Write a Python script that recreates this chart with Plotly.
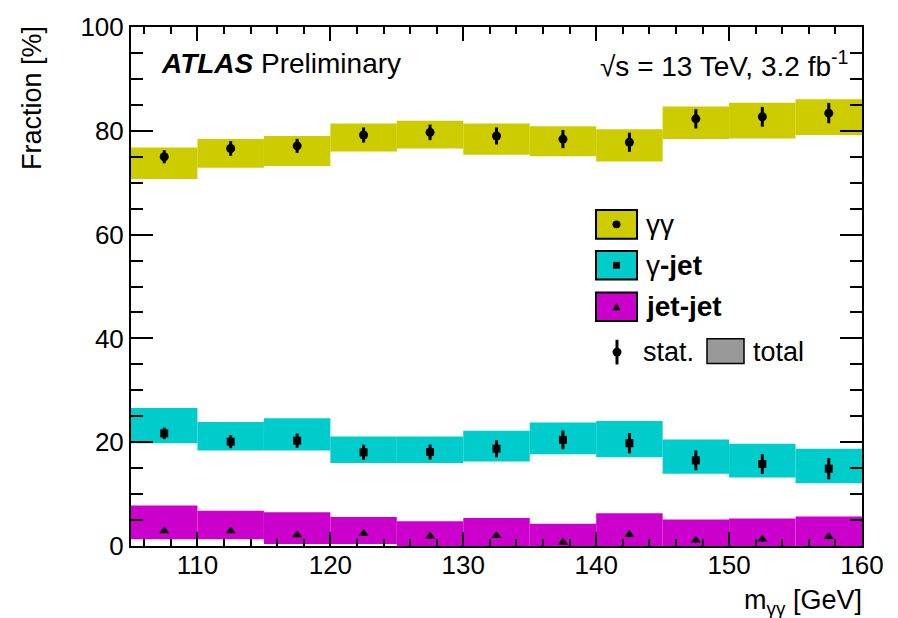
import plotly.graph_objects as go

# Diphoton invariant-mass bins (GeV)
bin_centers = [107.5, 112.5, 117.5, 122.5, 127.5, 132.5, 137.5, 142.5, 147.5, 152.5, 157.5]
bin_width = 5.0

# gamma-gamma fraction [%], statistical error, total-uncertainty band edges
gg_frac = [75.0, 76.6, 77.1, 79.2, 79.7, 79.0, 78.4, 77.8, 82.3, 82.7, 83.4]
gg_stat = [1.25, 1.4, 1.35, 1.45, 1.5, 1.65, 1.75, 1.85, 1.85, 1.9, 1.95]
gg_tot_lo = [70.7, 72.9, 73.2, 76.0, 76.6, 75.4, 75.1, 74.1, 78.4, 78.5, 79.2]
gg_tot_hi = [76.8, 78.4, 79.0, 81.4, 81.95, 81.4, 80.9, 80.3, 84.7, 85.4, 86.1]

# gamma-jet fraction [%]
gj_frac = [21.7, 20.1, 20.3, 18.05, 18.1, 18.75, 20.45, 19.8, 16.5, 15.8, 14.9]
gj_stat = [1.1, 1.25, 1.35, 1.45, 1.45, 1.65, 1.8, 1.95, 1.9, 1.9, 2.05]
gj_tot_lo = [19.8, 18.4, 18.4, 16.0, 16.0, 16.3, 17.7, 17.1, 13.9, 13.2, 12.1]
gj_tot_hi = [26.6, 23.9, 24.6, 21.1, 21.1, 22.2, 23.8, 24.1, 20.5, 19.7, 18.75]

# jet-jet fraction [%]
jj_frac = [2.9, 2.9, 2.1, 2.4, 1.9, 1.96, 0.7, 2.2, 1.1, 1.3, 1.8]
jj_stat = [0.4, 0.4, 0.4, 0.4, 0.4, 0.4, 0.4, 0.5, 0.5, 0.5, 0.5]
jj_tot_lo = [1.3, 1.3, 0.4, 0.4, 0.0, 0.0, 0.0, 0.0, 0.0, 0.0, 0.0]
jj_tot_hi = [7.8, 6.8, 6.5, 5.6, 4.75, 5.4, 4.3, 6.3, 5.1, 5.3, 5.7]

x_range = [105, 160]
y_range = [0, 100]

C_GG = "rgb(204,204,0)"
C_GJ = "rgb(0,204,204)"
C_JJ = "rgb(204,0,204)"
FONT = "Liberation Sans, Arial, Helvetica, sans-serif"

W, H = 898, 618
L, R, T, B = 131, 36, 20, 72
PW, PH = W - L - R, H - T - B


def px(x):
    return (x - L) / PW


def py(y):
    return (H - B - y) / PH


series = [
    (gg_frac, gg_stat, gg_tot_lo, gg_tot_hi, C_GG, "circle", 9),
    (gj_frac, gj_stat, gj_tot_lo, gj_tot_hi, C_GJ, "square", 8),
    (jj_frac, jj_stat, jj_tot_lo, jj_tot_hi, C_JJ, "triangle-up", 9),
]

fig = go.Figure()

# total-uncertainty bands
for frac, stat, lo, hi, col, sym, size in series:
    fig.add_trace(go.Bar(
        x=bin_centers, base=lo, y=[h - l for h, l in zip(hi, lo)],
        width=bin_width, marker=dict(color=col, line=dict(width=0)),
        showlegend=False, hoverinfo="skip",
    ))

# central values with statistical errors
for frac, stat, lo, hi, col, sym, size in series:
    fig.add_trace(go.Scatter(
        x=bin_centers, y=frac, mode="markers",
        marker=dict(symbol=sym, size=size, color="black"),
        error_y=dict(type="data", array=stat, width=0, thickness=3, color="black"),
        showlegend=False,
    ))

shapes = []
annotations = []

# legend block
legend_rows = [
    (220, C_GG, "circle", "γγ"),
    (261.5, C_GJ, "square", "γ<b>-jet</b>"),
    (303.5, C_JJ, "triangle", "<b>jet-jet</b>"),
]
bx0, bx1 = 596, 637
for yc, col, kind, label in legend_rows:
    shapes.append(dict(type="rect", xref="paper", yref="paper",
                       x0=px(bx0), x1=px(bx1), y0=py(yc - 14.5), y1=py(yc + 14.5),
                       fillcolor=col, line=dict(color="black", width=2), layer="above"))
    cx = (bx0 + bx1) / 2
    if kind == "circle":
        shapes.append(dict(type="circle", xref="paper", yref="paper",
                           x0=px(cx - 4), x1=px(cx + 4), y0=py(yc - 4), y1=py(yc + 4),
                           fillcolor="black", line=dict(width=0), layer="above"))
    elif kind == "square":
        shapes.append(dict(type="rect", xref="paper", yref="paper",
                           x0=px(cx - 3.5), x1=px(cx + 3.5), y0=py(yc - 3.5), y1=py(yc + 3.5),
                           fillcolor="black", line=dict(width=0), layer="above"))
    else:
        path = "M {} {} L {} {} L {} {} Z".format(px(cx - 4), py(yc + 3.5), px(cx + 4), py(yc + 3.5), px(cx), py(yc - 4))
        shapes.append(dict(type="path", xref="paper", yref="paper", path=path,
                           fillcolor="black", line=dict(width=0), layer="above"))
    annotations.append(dict(xref="paper", yref="paper", x=px(644), y=py(yc),
                            xanchor="left", yanchor="middle", showarrow=False,
                            text=label, font=dict(family=FONT, size=28, color="black")))

# stat. / total key
shapes.append(dict(type="line", xref="paper", yref="paper",
                   x0=px(617), x1=px(617), y0=py(337), y1=py(362),
                   line=dict(color="black", width=3), layer="above"))
shapes.append(dict(type="circle", xref="paper", yref="paper",
                   x0=px(612.5), x1=px(621.5), y0=py(345), y1=py(354),
                   fillcolor="black", line=dict(width=0), layer="above"))
shapes.append(dict(type="rect", xref="paper", yref="paper",
                   x0=px(707), x1=px(744), y0=py(336), y1=py(361),
                   fillcolor="rgb(153,153,153)", line=dict(color="black", width=1.5), layer="above"))
annotations.append(dict(xref="paper", yref="paper", x=px(641), y=py(349),
                        xanchor="left", yanchor="middle", showarrow=False,
                        text="stat.", font=dict(family=FONT, size=27, color="black")))
annotations.append(dict(xref="paper", yref="paper", x=px(751), y=py(349),
                        xanchor="left", yanchor="middle", showarrow=False,
                        text="total", font=dict(family=FONT, size=27, color="black")))

# header labels
annotations.append(dict(xref="paper", yref="paper", x=px(159), y=py(57),
                        xanchor="left", yanchor="middle", showarrow=False,
                        text="<b><i>ATLAS</i></b> Preliminary",
                        font=dict(family=FONT, size=28, color="black")))
annotations.append(dict(xref="paper", yref="paper", x=px(850), y=py(57),
                        xanchor="right", yanchor="middle", showarrow=False,
                        text="√s = 13 TeV, 3.2 fb<sup>-1</sup>",
                        font=dict(family=FONT, size=28, color="black")))

# axis titles
annotations.append(dict(xref="paper", yref="paper", x=px(864), y=py(603),
                        xanchor="right", yanchor="middle", showarrow=False,
                        text="m<sub>γγ</sub> [GeV]",
                        font=dict(family=FONT, size=27, color="black")))
annotations.append(dict(xref="paper", yref="paper", x=px(32), y=py(17),
                        xanchor="center", yanchor="top", showarrow=False, textangle=-90,
                        text="Fraction [%]",
                        font=dict(family=FONT, size=27, color="black")))

axis_common = dict(
    showgrid=False, zeroline=False, showline=True, linecolor="black", linewidth=2,
    mirror="allticks", ticks="inside", tickcolor="black", tickwidth=1.5,
    tickfont=dict(family=FONT, size=26, color="black"),
)

fig.update_layout(
    width=W, height=H,
    margin=dict(l=L, r=R, t=T, b=B, pad=0),
    paper_bgcolor="white", plot_bgcolor="white",
    barmode="overlay", showlegend=False,
    shapes=shapes, annotations=annotations,
    xaxis=dict(range=x_range, tick0=110, dtick=10, ticklen=14, ticklabelstandoff=-5,
               minor=dict(dtick=2, ticklen=7, ticks="inside", tickcolor="black", tickwidth=1.5),
               **axis_common),
    yaxis=dict(range=y_range, tick0=0, dtick=20, ticklen=22,
               minor=dict(dtick=5, ticklen=12, ticks="inside", tickcolor="black", tickwidth=1.5),
               **axis_common),
)

fig.write_html("out.html")
